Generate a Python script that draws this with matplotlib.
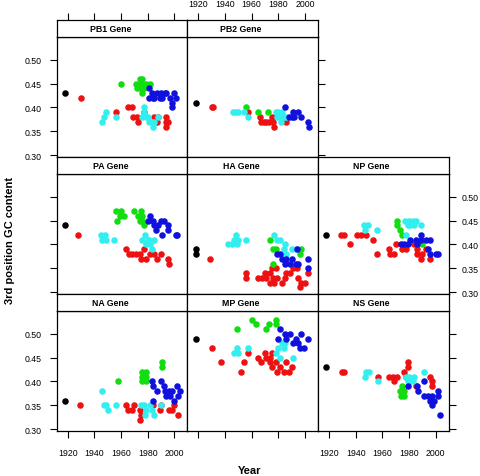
import matplotlib
matplotlib.use("Agg")
import matplotlib.pyplot as plt

plt.rcParams['font.family'] = ['Liberation Sans', 'DejaVu Sans']

# data: gene -> colour group -> (years, 3rd position GC)
pb1 = {
    "black": ([1918], [0.43]),
    "red": ([1930, 1956, 1965, 1968, 1969, 1972, 1973, 1977, 1985, 1987, 1988, 1994, 1994, 1994, 1995],
            [0.42, 0.39, 0.40, 0.40, 0.38, 0.38, 0.37, 0.39, 0.38, 0.37, 0.38, 0.38, 0.37, 0.36, 0.37]),
    "green": ([1960, 1971, 1972, 1974, 1975, 1976, 1977, 1979, 1982, 1976, 1974],
              [0.45, 0.45, 0.44, 0.46, 0.45, 0.46, 0.44, 0.45, 0.45, 0.43, 0.44]),
    "cyan": ([1946, 1947, 1949, 1956, 1976, 1977, 1977, 1979, 1981, 1983, 1984, 1985, 1988, 1980],
             [0.37, 0.38, 0.39, 0.38, 0.38, 0.40, 0.39, 0.38, 0.37, 0.37, 0.36, 0.37, 0.38, 0.38]),
    "blue": ([1981, 1981, 1983, 1985, 1987, 1990, 1991, 1993, 1994, 1997, 1998, 1998, 2000, 2001, 1984, 1989],
             [0.44, 0.42, 0.43, 0.42, 0.43, 0.43, 0.42, 0.43, 0.43, 0.42, 0.41, 0.40, 0.43, 0.42, 0.42, 0.42]),
}
pb2 = {
    "black": ([1918], [0.41]),
    "red": ([1930, 1931, 1957, 1966, 1967, 1969, 1971, 1973, 1975, 1976, 1977, 1986],
            [0.40, 0.40, 0.39, 0.38, 0.37, 0.37, 0.37, 0.37, 0.38, 0.37, 0.36, 0.37]),
    "green": ([1956, 1965, 1972], [0.40, 0.39, 0.39]),
    "cyan": ([1946, 1948, 1950, 1954, 1957, 1978, 1980, 1981, 1983, 1984, 1986, 1982, 1979],
             [0.39, 0.39, 0.39, 0.39, 0.38, 0.39, 0.39, 0.38, 0.39, 0.38, 0.38, 0.37, 0.38]),
    "blue": ([1985, 1988, 1990, 1991, 1992, 1995, 1997, 2002, 2003],
             [0.40, 0.38, 0.38, 0.39, 0.38, 0.39, 0.38, 0.37, 0.36]),
}
pa = {
    "black": ([1918], [0.44]),
    "red": ([1928, 1964, 1966, 1968, 1971, 1974, 1975, 1977, 1979, 1982, 1985, 1987, 1990, 1995, 1996],
            [0.42, 0.39, 0.38, 0.38, 0.38, 0.38, 0.37, 0.39, 0.37, 0.38, 0.38, 0.37, 0.38, 0.37, 0.36]),
    "green": ([1956, 1957, 1959, 1960, 1962, 1970, 1973, 1974, 1975, 1976, 1976, 1977],
              [0.47, 0.45, 0.46, 0.47, 0.46, 0.47, 0.46, 0.45, 0.47, 0.45, 0.46, 0.44]),
    "cyan": ([1945, 1946, 1948, 1949, 1955, 1976, 1978, 1979, 1980, 1981, 1982, 1983, 1985],
             [0.42, 0.41, 0.42, 0.41, 0.41, 0.41, 0.42, 0.40, 0.41, 0.41, 0.40, 0.39, 0.41]),
    "blue": ([1980, 1982, 1984, 1985, 1986, 1988, 1990, 1992, 1995, 1995, 1991, 2001, 2002],
             [0.45, 0.46, 0.45, 0.44, 0.43, 0.44, 0.45, 0.45, 0.44, 0.43, 0.42, 0.42, 0.42]),
}
ha = {
    "black": ([1918, 1918], [0.39, 0.38]),
    "red": ([1929, 1956, 1956, 1965, 1968, 1970, 1971, 1974, 1975, 1978, 1974, 1976, 1977, 1979, 1983,
             1985, 1986, 1989, 1991, 1994, 1995, 1997, 1996, 2000, 2002],
            [0.37, 0.34, 0.33, 0.33, 0.33, 0.34, 0.33, 0.34, 0.35, 0.35, 0.32, 0.33, 0.32, 0.33, 0.32,
             0.33, 0.34, 0.34, 0.35, 0.35, 0.33, 0.32, 0.31, 0.32, 0.34]),
    "green": ([1974, 1976, 1978, 1997, 1996, 1976], [0.41, 0.39, 0.39, 0.39, 0.38, 0.36]),
    "cyan": ([1942, 1945, 1947, 1948, 1949, 1950, 1956, 1977, 1979, 1981, 1984, 1985, 1986, 1990, 1993],
             [0.40, 0.40, 0.41, 0.42, 0.40, 0.41, 0.41, 0.42, 0.41, 0.41, 0.39, 0.40, 0.38, 0.39, 0.39]),
    "blue": ([1994, 1979, 1981, 1983, 1985, 1986, 1989, 1990, 1993, 1995, 2002, 2002],
             [0.39, 0.38, 0.38, 0.37, 0.36, 0.37, 0.36, 0.37, 0.36, 0.36, 0.37, 0.35]),
}
np_gene = {
    "black": ([1918], [0.42]),
    "red": ([1929, 1931, 1936, 1941, 1944, 1948, 1953, 1956, 1965, 1966, 1969, 1970, 1975, 1978, 1984,
             1986, 1986, 1990, 1989, 1993, 1996],
            [0.42, 0.42, 0.40, 0.42, 0.42, 0.42, 0.41, 0.38, 0.39, 0.38, 0.38, 0.40, 0.39, 0.39, 0.40,
             0.39, 0.38, 0.38, 0.37, 0.39, 0.37]),
    "green": ([1971, 1971, 1973, 1975, 1990], [0.45, 0.44, 0.43, 0.42, 0.40]),
    "cyan": ([1946, 1947, 1949, 1956, 1977, 1980, 1981, 1983, 1984, 1985, 1989, 1978, 1979],
             [0.44, 0.43, 0.44, 0.43, 0.45, 0.45, 0.44, 0.45, 0.44, 0.45, 0.44, 0.42, 0.44]),
    "blue": ([1981, 1985, 1989, 1989, 1993, 1996, 1974, 1976, 1979, 1986, 1994, 1996, 2000, 2002],
             [0.41, 0.41, 0.42, 0.41, 0.41, 0.41, 0.40, 0.40, 0.40, 0.40, 0.39, 0.38, 0.38, 0.38]),
}
na = {
    "black": ([1918], [0.36]),
    "red": ([1929, 1964, 1965, 1968, 1970, 1974, 1974, 1975, 1984, 1989, 1990, 1996, 1998, 2000, 2003],
            [0.35, 0.35, 0.34, 0.34, 0.35, 0.34, 0.32, 0.33, 0.35, 0.34, 0.35, 0.34, 0.34, 0.35, 0.33]),
    "green": ([1958, 1976, 1976, 1976, 1979, 1979, 1979, 1991, 1991],
              [0.40, 0.42, 0.41, 0.40, 0.42, 0.41, 0.40, 0.44, 0.43]),
    "cyan": ([1946, 1947, 1949, 1950, 1956, 1975, 1977, 1978, 1979, 1982, 1983, 1985, 1990],
             [0.38, 0.35, 0.35, 0.34, 0.35, 0.35, 0.35, 0.33, 0.34, 0.35, 0.34, 0.33, 0.35]),
    "blue": ([1983, 1984, 1987, 1990, 1992, 1993, 1996, 1998, 1997, 2000, 2002, 2003, 2004, 1984, 1994],
             [0.40, 0.39, 0.38, 0.40, 0.39, 0.38, 0.38, 0.38, 0.37, 0.36, 0.39, 0.37, 0.38, 0.36, 0.37]),
}
mp = {
    "black": ([1918], [0.49]),
    "red": ([1930, 1937, 1952, 1954, 1957, 1965, 1967, 1970, 1971, 1974, 1974, 1975, 1975, 1978, 1979,
             1981, 1984, 1986, 1990, 1988],
            [0.47, 0.44, 0.42, 0.44, 0.46, 0.45, 0.44, 0.46, 0.45, 0.45, 0.44, 0.46, 0.43, 0.44, 0.42,
             0.43, 0.42, 0.44, 0.43, 0.42]),
    "green": ([1949, 1960, 1963, 1971, 1973, 1978, 1978], [0.51, 0.53, 0.52, 0.51, 0.52, 0.53, 0.52]),
    "cyan": ([1947, 1949, 1950, 1957, 1978, 1980, 1981, 1983, 1984, 1985, 1991],
             [0.46, 0.47, 0.46, 0.47, 0.46, 0.47, 0.45, 0.48, 0.47, 0.48, 0.45]),
    "blue": ([1980, 1981, 1985, 1986, 1989, 1991, 1993, 1995, 1996, 1997, 1999, 2002],
             [0.49, 0.51, 0.50, 0.49, 0.50, 0.48, 0.49, 0.48, 0.47, 0.50, 0.47, 0.49]),
}
ns = {
    "black": ([1918], [0.43]),
    "red": ([1930, 1931, 1957, 1965, 1968, 1969, 1971, 1976, 1978, 1979, 1979, 1985, 1996, 1997, 1997],
            [0.42, 0.42, 0.41, 0.41, 0.41, 0.40, 0.41, 0.42, 0.41, 0.43, 0.44, 0.39, 0.41, 0.40, 0.39]),
    "green": ([1973, 1974, 1975, 1976, 1976], [0.38, 0.37, 0.39, 0.38, 0.37]),
    "cyan": ([1947, 1948, 1950, 1957, 1978, 1979, 1980, 1981, 1983, 1984, 1991],
             [0.41, 0.42, 0.42, 0.40, 0.41, 0.40, 0.41, 0.40, 0.40, 0.41, 0.42]),
    "blue": ([1979, 1986, 1987, 1991, 1991, 1994, 1996, 1997, 1997, 1999, 2002, 2002, 2003],
             [0.39, 0.39, 0.38, 0.40, 0.37, 0.37, 0.36, 0.37, 0.35, 0.36, 0.38, 0.37, 0.33]),
}

x_ticks = [1920, 1940, 1960, 1980, 2000]
y_ticks = [0.30, 0.35, 0.40, 0.45, 0.50]
colors = {"black": "black", "red": "#EE1111", "green": "#11DD11", "cyan": "#33EEEE", "blue": "#1111DD"}

# (name, data, row, col)
panels = [("PB1 Gene", pb1, 0, 0), ("PB2 Gene", pb2, 0, 1),
          ("PA Gene", pa, 1, 0), ("HA Gene", ha, 1, 1), ("NP Gene", np_gene, 1, 2),
          ("NA Gene", na, 2, 0), ("MP Gene", mp, 2, 1), ("NS Gene", ns, 2, 2)]

W, H = 480, 477
fig = plt.figure(figsize=(W / 100, H / 100), dpi=100)

col_x = [56.7, 187.3, 318.0]
pw = 130.7
strip_top = [21, 158, 295]
sh, ph = 17, 120


def box(x, y, w, h):
    return [x / W, 1 - (y + h) / H, w / W, h / H]


tick_kw = dict(direction='out', length=5, width=0.8, labelsize=6.3, color='black')

for name, data, r, c in panels:
    ax = fig.add_axes(box(col_x[c], strip_top[r] + sh, pw, ph))
    for grp in ["black", "red", "green", "cyan", "blue"]:
        xs, ys = data[grp]
        ax.scatter(xs, ys, s=22, color=colors[grp], linewidths=0, zorder=3)
    ax.set_xlim(1911.75, 2009.75)
    ax.set_ylim(0.296, 0.548)
    ax.set_xticks(x_ticks)
    ax.set_yticks(y_ticks)
    ax.set_yticklabels([f"{v:.2f}" for v in y_ticks])
    for s in ax.spines.values():
        s.set_linewidth(0.9)

    bottom_row = (r == 2)
    left_col = (c == 0)
    right_col = (c == 2) or (r == 0 and c == 1)
    ax.tick_params(axis='x', bottom=bottom_row, labelbottom=bottom_row and c != 1,
                   top=False, labeltop=False, pad=7, **tick_kw)
    ax.tick_params(axis='y', left=left_col, labelleft=left_col and r != 1,
                   right=right_col, labelright=(r == 1 and c == 2), **tick_kw)
    ax.tick_params(axis='y', which='major', pad=4)
    if left_col:
        ax.tick_params(axis='y', pad=6)

    st = fig.add_axes(box(col_x[c], strip_top[r], pw, sh))
    st.set_xlim(1911.75, 2009.75)
    st.set_yticks([])
    for s in st.spines.values():
        s.set_linewidth(0.9)
    if r == 0:
        st.set_xticks(x_ticks)
        st.tick_params(axis='x', bottom=False, labelbottom=False, top=True,
                       labeltop=(c == 1), pad=4, **tick_kw)
    else:
        st.set_xticks([])
    st.text(0.41, 0.5, name, transform=st.transAxes, ha='center', va='center',
            fontsize=6.3, fontweight='bold')

fig.text(10 / W, 1 - 240 / H, "3rd position GC content", rotation=90,
         ha='center', va='center', fontsize=8, fontweight='bold')
fig.text(250 / W, 1 - 471 / H, "Year", ha='center', va='center',
         fontsize=8, fontweight='bold')

fig.savefig("out.png", dpi=100)
